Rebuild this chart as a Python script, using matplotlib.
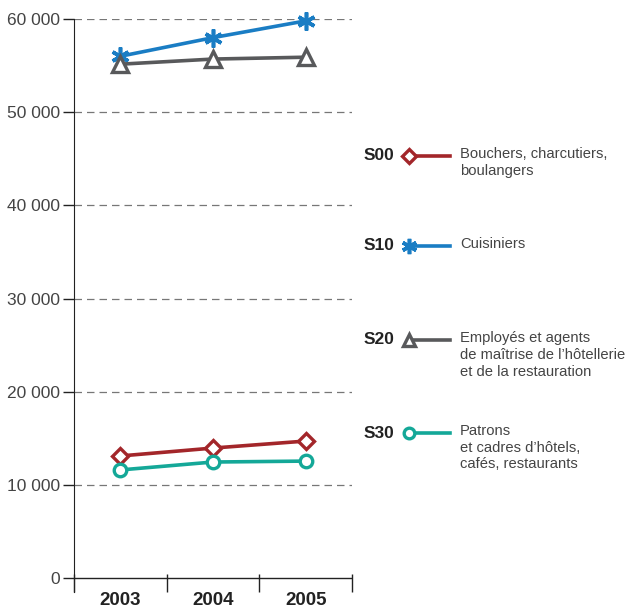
import matplotlib.pyplot as plt
from matplotlib.lines import Line2D

plt.rcParams['font.family'] = ['Liberation Sans', 'DejaVu Sans']

years = ["2003", "2004", "2005"]
codes = ["S00", "S10", "S20", "S30"]
labels = [
    "Bouchers, charcutiers,\nboulangers",
    "Cuisiniers",
    "Employés et agents\nde maîtrise de l’hôtellerie\net de la restauration",
    "Patrons\net cadres d’hôtels,\ncafés, restaurants",
]
s00 = [13100, 13950, 14700]
s10 = [56000, 58000, 59800]
s20 = [55150, 55700, 55900]
s30 = [11600, 12450, 12550]
series = [s00, s10, s20, s30]

colors = ["#a3262a", "#1a7dc4", "#58595b", "#14a898"]
markers = ["D", (6, 2, 0), "^", "o"]
msizes = [8.5, 13, 11, 9]
mews = [2.4, 2.6, 2.4, 2.4]
faces = ["white", "none", "white", "white"]

fig = plt.figure(figsize=(6.28, 6.09), dpi=100)
ax = fig.add_axes([74 / 628, 1 - 592 / 609, 278 / 628, 573 / 609])

x = list(range(len(years)))
# grid lines
for v in range(10000, 60001, 10000):
    ax.axhline(v, color="#777777", lw=0.9, dashes=(6, 4), zorder=1)
ax.axhline(0, color="#222222", lw=1.0, zorder=2)

for vals, c, m, ms, mew, fc in zip(series, colors, markers, msizes, mews, faces):
    ax.plot(x, vals, color=c, lw=2.6, marker=m, markersize=ms,
            markeredgewidth=mew, markerfacecolor=fc, markeredgecolor=c,
            zorder=3, clip_on=False)

ax.set_xlim(-0.5, 2.5)
ax.set_ylim(-1500, 60000)
ax.set_yticks(range(0, 60001, 10000))
ax.set_yticklabels([f"{v:,}".replace(",", " ") for v in range(0, 60001, 10000)],
                   fontsize=12.5, color="#444444")
ax.tick_params(axis="y", length=8, width=1, color="#222222", pad=2)

ax.set_xticks([-0.5, 0.5, 1.5, 2.5])
ax.set_xticklabels([])
ax.tick_params(axis="x", direction="in", length=13, width=1, color="#222222")
ax.set_xticks(x, minor=True)
ax.set_xticklabels(years, minor=True, fontsize=13.5, fontweight="bold", color="#222222")
ax.tick_params(axis="x", which="minor", length=0, pad=0)

for s in ["top", "right", "bottom"]:
    ax.spines[s].set_visible(False)
ax.spines["left"].set_bounds(-1500, 60000)
ax.spines["left"].set_color("#222222")

# legend
leg_y = [156, 246, 340, 433]
for code, lab, c, m, ms, mew, fc, py in zip(codes, labels, colors, markers, msizes, mews, faces, leg_y):
    fy = 1 - py / 609
    fig.text(364 / 628, fy, code, fontsize=12.5, fontweight="bold", color="#222222",
             va="center", ha="left")
    fig.add_artist(Line2D([409 / 628, 450 / 628], [fy, fy], color=c, lw=2.6))
    fig.add_artist(Line2D([409 / 628], [fy], marker=m, markersize=ms * 0.85,
                          markeredgewidth=mew, markerfacecolor=fc, markeredgecolor=c,
                          color=c))
    fig.text(460 / 628, 1 - (py - 9) / 609, lab, fontsize=10.6, color="#444444",
             va="top", ha="left", linespacing=1.25)

fig.savefig("out.png", dpi=100)
